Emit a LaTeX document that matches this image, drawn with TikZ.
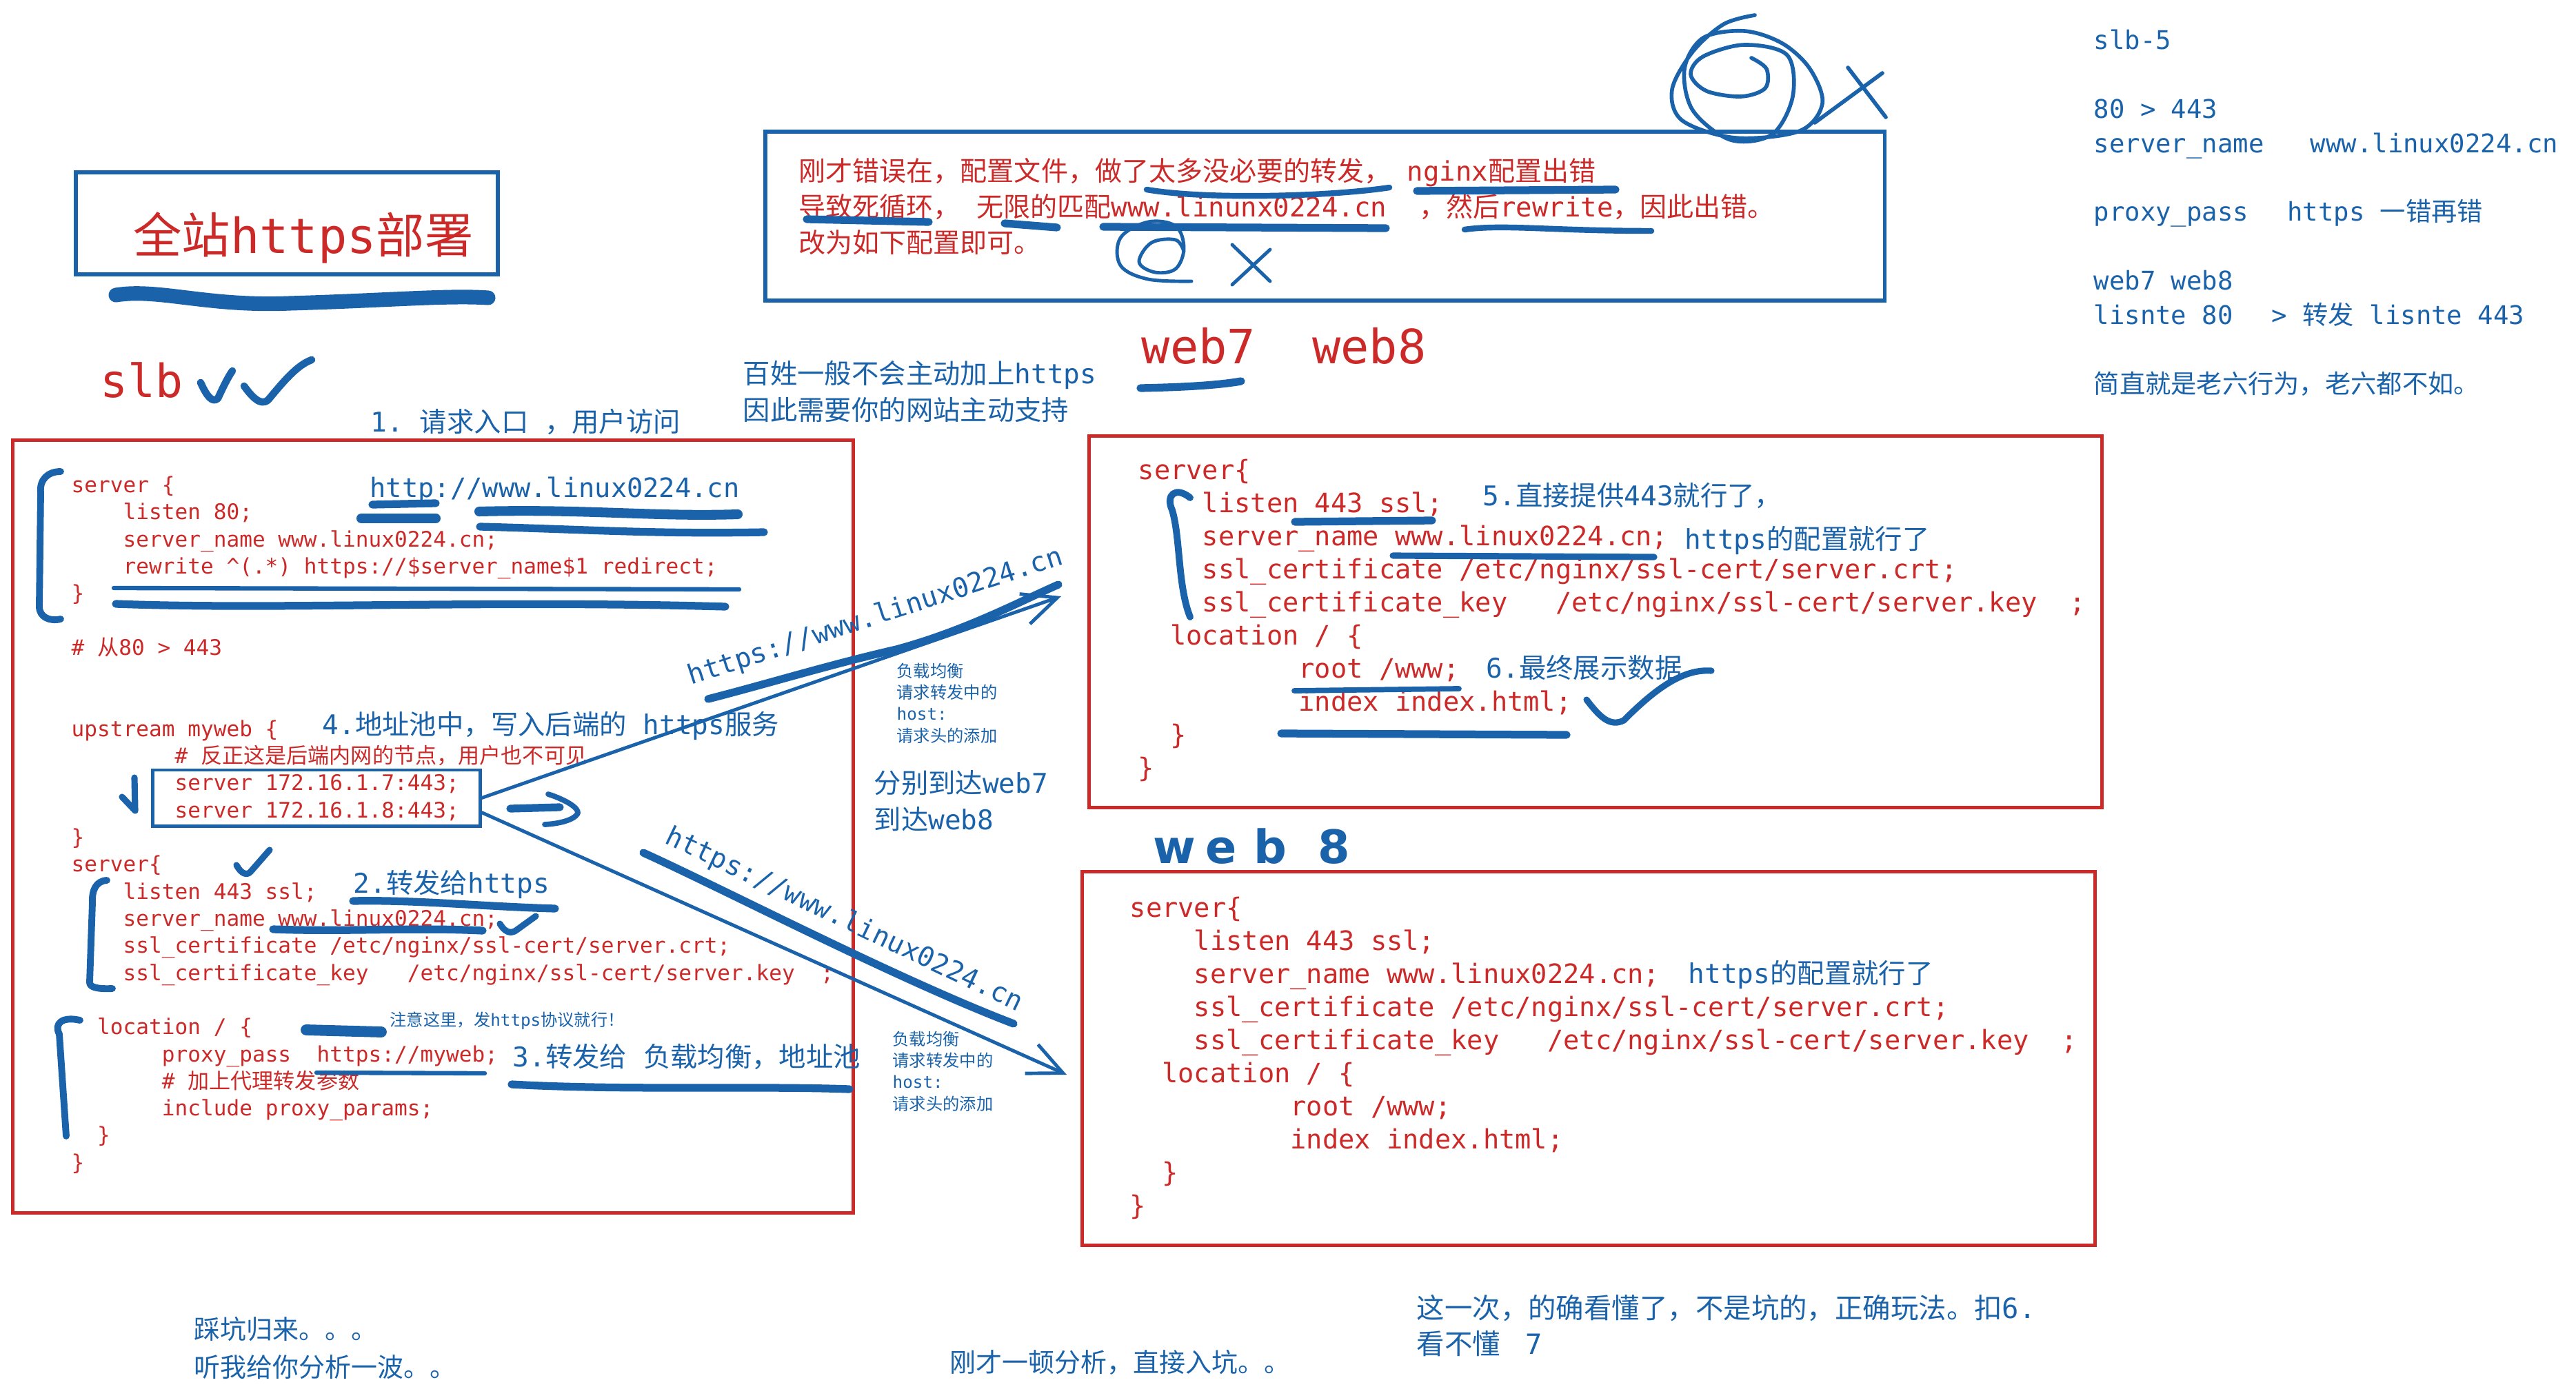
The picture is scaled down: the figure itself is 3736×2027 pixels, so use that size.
\documentclass[tikz,border=0pt]{standalone}
\usepackage{fontspec}
\setmonofont{DejaVu Sans Mono}
\newfontfamily\cjk{Noto Sans CJK SC}
\newfontfamily\hand{DejaVu Sans}
\usetikzlibrary{arrows.meta}
\definecolor{slbred}{RGB}{204,41,41}
\definecolor{penblue}{RGB}{26,99,171}
\newcommand\zh[1]{{\cjk #1}}
\newcommand\ind[1]{\hspace*{#1\fontdimen2\font}}
\newcommand\webconf{server\{\\
\ind{4}listen 443 ssl;\\
\ind{4}server\_name www.linux0224.cn;\\
\ind{4}ssl\_certificate /etc/nginx/ssl-cert/server.crt;\\
\ind{4}ssl\_certificate\_key\ind{3}/etc/nginx/ssl-cert/server.key\ind{2};\\
\ind{2}location / \{\\
\ind{10}root /www;\\
\ind{10}index index.html;\\
\ind{2}\}\\
\}}

\begin{document}
\begin{tikzpicture}[x=0.01cm, y=-0.01cm,
  code/.style={font=\ttfamily\fontsize{8.85}{11.18}\selectfont, text=slbred,
    align=left, anchor=north west, inner sep=0pt},
  webcode/.style={code, font=\ttfamily\fontsize{11}{13.66}\selectfont},
  note/.style={font=\ttfamily\fontsize{11.2}{15}\selectfont, text=penblue,
    align=left, anchor=west, inner sep=0pt},
  small/.style={note, font=\ttfamily\fontsize{6.9}{8.9}\selectfont},
  redbox/.style={draw=slbred, line width=1.4pt, inner sep=0pt},
  bluebox/.style={draw=penblue, line width=1.7pt, inner sep=0pt},
  ink/.style={draw=penblue, line width=1.4pt, line cap=round, line join=round},
  brush/.style={ink, line width=3.2pt},
  flow/.style={ink, -{Straight Barb[length=5mm,width=4.6mm]}}
]
\fill[white] (0,0) rectangle (3736,2027);
\useasboundingbox (0,0) rectangle (3736,2027);

\node[bluebox, minimum width=6.12cm, minimum height=1.48cm] (titlebox) at (416,324) {};
\node[font=\ttfamily\fontsize{20}{24}\selectfont, text=slbred, inner sep=0pt] (title) at (440,345) {\zh{全站}https\zh{部署}};
\node[redbox, minimum width=12.18cm, minimum height=11.2cm] (slbbox) at (628,1199) {};
\node[redbox, minimum width=14.68cm, minimum height=5.38cm] (web7box) at (2314,902) {};
\node[redbox, minimum width=14.68cm, minimum height=5.41cm] (web8box) at (2304,1535.5) {};
\node[bluebox, minimum width=16.23cm, minimum height=2.45cm] (errbox) at (1921.5,313.5) {};
\node[bluebox, line width=1.4pt, minimum width=4.74cm, minimum height=0.81cm] (pool) at (459,1157.5) {};

\node[note, text=slbred, font=\ttfamily\fontsize{18.9}{23}\selectfont] (slb) at (145,552) {slb};
\node[note, text=slbred, font=\ttfamily\fontsize{19.5}{23}\selectfont] (webs) at (1655,502) {web7\ind{2}web8};
\node[note, font=\hand\bfseries\fontsize{19}{23}\selectfont] (web8lbl) at (1672,1228) {w\kern4pt e\kern7pt b\kern13pt 8};

\node[note] (entry) at (537,612) {1.\ind{1}\zh{请求入口}\ind{1}\zh{，用户访问}};
\node[note] (hint) at (1077,568) {\zh{百姓一般不会主动加上}https\\\zh{因此需要你的网站主动支持}};
\node[note, text=slbred, font=\ttfamily\fontsize{11.1}{14.8}\selectfont] (errnote) at (1158,300)
  {\zh{刚才错误在，配置文件，做了太多没必要的转发，} nginx\zh{配置出错}\\
   \zh{导致死循环，} \zh{无限的匹配}www.linunx0224.cn\ind{2}\zh{，然后}rewrite\zh{，因此出错。}\\
   \zh{改为如下配置即可。}};
\node[note, anchor=north west, font=\ttfamily\fontsize{10.6}{14.2}\selectfont] (recap) at (3036,42)
  {slb-5\\[14.2pt]
   80 > 443\\
   server\_name\ind{3}www.linux0224.cn\\[14.2pt]
   proxy\_pass\ind{2.5}https \zh{一错再错}\\[14.2pt]
   web7 web8\\
   lisnte 80\ind{2.5}> \zh{转发} lisnte 443\\[14.2pt]
   \zh{简直就是老六行为，老六都不如。}};

\node[code] (slbconf) at (103,690) {server \{\\
\ind{4}listen 80;\\
\ind{4}server\_name www.linux0224.cn;\\
\ind{4}rewrite \textasciicircum(.*) https://\$server\_name\$1 redirect;\\
\}\\[11.18pt]
\# \zh{从}80 > 443\\[22.36pt]
upstream myweb \{\\
\ind{8}\# \zh{反正这是后端内网的节点，用户也不可见}\\
\ind{8}server 172.16.1.7:443;\\
\ind{8}server 172.16.1.8:443;\\
\}\\
server\{\\
\ind{4}listen 443 ssl;\\
\ind{4}server\_name www.linux0224.cn;\\
\ind{4}ssl\_certificate /etc/nginx/ssl-cert/server.crt;\\
\ind{4}ssl\_certificate\_key\ind{3}/etc/nginx/ssl-cert/server.key\ind{2};\\[11.18pt]
\ind{2}location / \{\\
\ind{7}proxy\_pass\ind{2}https://myweb;\\
\ind{7}\# \zh{加上代理转发参数}\\
\ind{7}include proxy\_params;\\
\ind{2}\}\\
\}};
\node[webcode] (web7conf) at (1650,665) {\webconf};
\node[webcode] (web8conf) at (1638,1300) {\webconf};

\node[note, font=\ttfamily\fontsize{11}{14}\selectfont] (http) at (536,711) {http://www.linux0224.cn};
\node[note] (step4) at (467,1053) {4.\zh{地址池中，写入后端的} https\zh{服务}};
\node[note] (step2) at (512,1283) {2.\zh{转发给}https};
\node[small] (mind) at (565,1481) {\zh{注意这里，发}https\zh{协议就行！}};
\node[note] (step3) at (743,1533) {3.\zh{转发给}\ind{1}\zh{负载均衡，地址池}};
\node[note] (step5) at (2150,719) {5.\zh{直接提供}443\zh{就行了，}};
\node[note] (cfg7) at (2443,784) {https\zh{的配置就行了}};
\node[note] (step6) at (2155,969) {6.\zh{最终展示数据}};
\node[note] (cfg8) at (2448,1414) {https\zh{的配置就行了}};
\node[small] (lbnote7) at (1300,1020) {\zh{负载均衡}\\\zh{请求转发中的}\\host:\\\zh{请求头的添加}};
\node[small] (lbnote8) at (1294,1554) {\zh{负载均衡}\\\zh{请求转发中的}\\host:\\\zh{请求头的添加}};
\node[note] (reach) at (1267,1162) {\zh{分别到达}web7\\\zh{到达}web8};
\node[note, anchor=base west, rotate=18] (url7) at (1002,994) {https://www.linux0224.cn};
\node[note, anchor=base west, rotate=-25.5] (url8) at (962,1222) {https://www.linux0224.cn};

\node[note, font=\ttfamily\fontsize{10.8}{15.6}\selectfont] (back) at (281,1955) {\zh{踩坑归来。。。}\\\zh{听我给你分析一波。。}};
\node[note, font=\ttfamily\fontsize{10.8}{15.6}\selectfont] (pit) at (1377,1976) {\zh{刚才一顿分析，直接入坑。。}};
\node[note, font=\ttfamily\fontsize{11.5}{14.8}\selectfont] (gotit) at (2054,1923) {\zh{这一次，的确看懂了，不是坑的，正确玩法。扣}6.\\\zh{看不懂}\ind{1.5}7};

\coordinate (tip7) at (1539,865);
\coordinate (tip8) at (1547,1559);
\draw[flow] (pool.east) -- (tip7);
\draw[flow] ([yshift=-6pt]pool.east) -- (tip8);
\draw[brush] (1027,1014) .. controls (1120,990) and (1200,965) .. (1300,942) .. controls (1400,915) and (1480,872) .. (1535,848);
\draw[brush] (933,1237) .. controls (1050,1290) and (1300,1420) .. (1470,1485);

\draw[brush, line width=6pt] (168,428) .. controls (230,418) and (300,445) .. (420,440) .. controls (560,436) and (650,428) .. (708,432);
\draw[ink, line width=3pt] (291,555) .. controls (300,575) and (308,585) .. (316,578) .. controls (322,565) and (330,548) .. (337,538);
\draw[ink, line width=3pt] (354,560) .. controls (365,575) and (378,590) .. (389,580) .. controls (410,555) and (430,530) .. (452,522);
\draw[brush] (1654,563) .. controls (1700,562) and (1760,560) .. (1800,553);

\draw[brush, line width=2.4pt] (1663,275) .. controls (1750,290) and (1930,285) .. (2015,272);
\draw[brush] (2055,277) -- (2343,275);
\draw[brush] (1170,318) -- (1347,322);
\draw[brush] (1457,324) -- (1533,330);
\draw[brush] (1600,329) -- (2010,331);
\draw[brush, line width=2.4pt] (2124,333) .. controls (2180,325) and (2250,335) .. (2395,335);
\draw[ink] plot[smooth, tension=0.6] coordinates {(1717,365) (1705,348) (1670,352) (1652,380) (1675,395) (1705,390) (1717,360) (1705,328) (1665,322) (1625,345) (1625,385) (1665,405) (1728,408)};
\draw[ink] (1787,355) -- (1842,408) (1842,362) -- (1787,413);
\draw[ink, line width=1.6pt] plot[smooth, tension=0.55] coordinates {(2545,22) (2500,35) (2455,75) (2425,130) (2440,175) (2517,200) (2610,190) (2643,150) (2625,100) (2585,63) (2530,45) (2470,55) (2443,100) (2455,160) (2510,203) (2570,195) (2600,140) (2592,80) (2530,65) (2470,82) (2452,108) (2475,132) (2525,140) (2560,128) (2562,100) (2540,84)};
\draw[ink, line width=1.6pt] (2680,98) -- (2735,170) (2730,106) -- (2632,178);

\draw[ink, line width=2.8pt] (88,684) .. controls (70,684) and (57,695) .. (59,715) -- (57,880) .. controls (57,895) and (72,902) .. (88,898);
\draw[brush] (540,732) -- (632,730);
\draw[brush, line width=4pt] (524,752) -- (632,752);
\draw[brush, line width=4pt] (695,742) .. controls (850,738) and (950,750) .. (1070,746);
\draw[brush] (696,764) .. controls (850,768) and (950,775) .. (1108,772);
\draw[ink, line width=1.8pt] (165,853) -- (1072,855);
\draw[brush] (168,876) .. controls (400,885) and (700,870) .. (1052,880);
\draw[ink, line width=2.6pt] (177,1156) -- (196,1176) -- (195,1128);
\draw[brush] (740,1173) -- (812,1171);
\draw[ink, line width=2.2pt] (795,1152) .. controls (820,1160) and (840,1172) .. (838,1180) .. controls (832,1190) and (810,1195) .. (790,1196);
\draw[ink, line width=2.6pt] (343,1255) .. controls (350,1268) and (358,1270) .. (363,1265) -- (391,1233);
\draw[ink, line width=2.6pt] (725,1340) .. controls (732,1352) and (740,1355) .. (748,1350) -- (777,1329);
\draw[brush] (512,1307) .. controls (600,1305) and (700,1315) .. (805,1318);
\draw[brush] (396,1348) .. controls (500,1352) and (600,1345) .. (700,1350);
\draw[ink, line width=2.8pt] (155,1277) .. controls (140,1278) and (133,1290) .. (134,1310) -- (130,1425) .. controls (130,1432) and (140,1435) .. (163,1434);
\draw[ink, line width=2.8pt] (116,1480) .. controls (90,1474) and (78,1485) .. (86,1500) -- (96,1648);
\draw[brush, line width=4.5pt] (444,1494) -- (553,1497);
\draw[ink, line width=1.8pt] (459,1556) -- (703,1557);
\draw[brush] (742,1573) .. controls (900,1582) and (1100,1575) .. (1232,1580);

\draw[ink, line width=2.8pt] (1726,722) .. controls (1705,705) and (1690,718) .. (1700,740) .. controls (1712,780) and (1708,850) .. (1726,895);
\draw[brush] (1878,757) -- (2077,755);
\draw[brush, line width=2.6pt] (2020,806) -- (2399,808);
\draw[brush, line width=2.2pt] (1877,1002) -- (2116,999);
\draw[brush] (1858,1064) -- (2272,1066);
\draw[ink, line width=2.6pt] (2301,1015) .. controls (2320,1040) and (2335,1055) .. (2355,1045) .. controls (2400,1000) and (2440,970) .. (2482,973);
\end{tikzpicture}
\end{document}
